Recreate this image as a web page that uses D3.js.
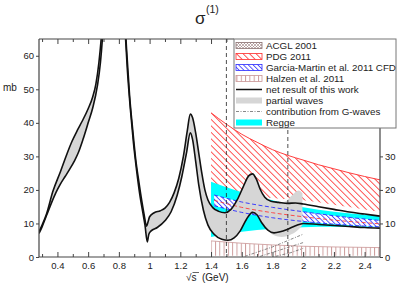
<!DOCTYPE html>
<html><head><meta charset="utf-8">
<script src="https://cdn.jsdelivr.net/npm/d3@7"></script>
<style>
html,body{margin:0;padding:0;background:#fff;}
svg{display:block;font-family:"Liberation Sans",Arial,Helvetica,sans-serif;}
</style></head><body>
<svg id="c" width="398" height="284"></svg>
<script>
// ---------- data ----------
const xMajorTicks = [0.4,0.6,0.8,1,1.2,1.4,1.6,1.8,2,2.2,2.4];
const xMinorTicks = [0.3,0.5,0.7,0.9,1.1,1.3,1.5,1.7,1.9,2.1,2.3];
const yTicksLeft = [0,10,20,30,40,50,60];
const yTicksRight = [0,10,20,30];
const legendLabels = ["ACGL 2001","PDG 2011","Garcia-Martin et al. 2011 CFD","Halzen et al. 2011",
  "net result of this work","partial waves","contribution from G-waves","Regge"];
const verticalMarks = [1.5, 1.9];

// net result of this work: upper and lower black curves [sqrt(s) GeV, mb]
const netUpper = [[0.28,7.5],[0.30,9.5],[0.33,13],[0.37,19.5],[0.42,25.5],[0.46,30.5],[0.495,34.5],[0.53,37.8],
  [0.56,40.4],[0.60,44.2],[0.63,47.8],[0.65,51.5],[0.67,58],[0.69,68],[0.72,92],[0.76,125],[0.80,108],[0.83,78],
  [0.85,62],[0.87,48],[0.89,38],[0.91,29],[0.93,22.5],[0.95,16.5],[0.965,12.5],[0.98,9.2],[0.99,10.5],[1.0,12],
  [1.03,13.2],[1.07,13.8],[1.10,14.6],[1.13,16.3],[1.16,19.2],[1.19,23.5],[1.22,30],[1.245,37.5],[1.265,42.6],
  [1.28,41.5],[1.30,37],[1.32,31],[1.34,25],[1.36,20],[1.38,17],[1.41,14.8],[1.45,13.6],[1.49,13.2],[1.53,14.2],
  [1.57,17],[1.61,21],[1.645,24.2],[1.67,24.8],[1.695,23.2],[1.72,20.2],[1.75,17.8],[1.79,16.6],[1.84,16.3],
  [1.9,16.0],[1.95,16.1],[2.0,15.8],[2.1,15],[2.2,14.2],[2.3,13.4],[2.4,12.8],[2.5,12.2]];
const netLower = [[0.28,7],[0.30,9],[0.33,12.5],[0.36,16],[0.39,19.2],[0.42,21.8],[0.45,24],[0.48,26.2],
  [0.51,28.6],[0.535,31],[0.566,35],[0.60,40],[0.63,44.5],[0.66,51],[0.68,58],[0.70,70],[0.73,98],[0.77,120],
  [0.81,98],[0.835,72],[0.855,56],[0.875,44],[0.895,34],[0.915,26],[0.935,19],[0.955,13.5],[0.97,9.5],
  [0.985,4.5],[0.995,6.8],[1.01,7.8],[1.05,8.8],[1.1,10.8],[1.14,13.5],[1.18,18.5],[1.21,24],[1.24,31],
  [1.265,37],[1.28,35],[1.30,28.5],[1.32,21.5],[1.35,14],[1.38,9.5],[1.42,6.8],[1.47,5.3],[1.51,5],[1.55,5.7],
  [1.59,7.8],[1.63,11.2],[1.67,13.3],[1.70,12.5],[1.73,10.2],[1.77,8],[1.81,7.2],[1.85,7.5],[1.9,8.3],
  [1.95,9.3],[2.0,10],[2.1,9.7],[2.2,9.4],[2.3,9.1],[2.4,8.8],[2.5,8.6]];
// partial waves band (extends to 2 GeV)
const pwUpperTail = [[1.88,16.5],[1.93,18.5],[1.97,19.8],[1.995,19]];
const pwLowerTail = [[1.81,6.5],[1.86,6],[1.91,6.5],[1.96,7.8],[1.995,9.5]];
// Regge band
const reggeX = [1.4,1.6,1.8,2.0,2.2,2.5];
const reggeHigh = [22.4,19.3,16.9,14.8,13.5,12.3];
const reggeLow = [6,7.5,8.4,8.9,9,9];
// PDG 2011 band
const pdgX = [1.4,1.5,1.6,1.7,1.8,1.9,2.0,2.1,2.2,2.3,2.4,2.5];
const pdgHigh = [43,39.6,36.6,34.2,32,30.3,28.9,27.5,26.3,25.1,24,23];
const pdgLow = [20,19.2,18.5,18,17.6,17.2,16.9,16.3,15.6,14.9,14.2,13.5];
// Garcia-Martin et al. 2011 CFD band
const gmX = [1.42,1.6,1.8,2.0,2.2,2.5];
const gmHigh = [18.5,16.4,14.8,13.5,12.3,10.9];
const gmLow = [15.3,13.3,11.7,10.6,9.8,9.0];
const gmCentral = [16.9,14.8,13.2,12,11,9.9];
// Halzen et al. 2011 band
const hzX = [1.4,1.6,1.8,2.0,2.2,2.5];
const hzHigh = [4.8,4.1,3.6,3.2,3.0,2.8];
const hzLow = [0.4,0.4,0.4,0.4,0.4,0.4];
// contribution from G-waves
const gWaveA = [[1.62,0.2],[1.8,3],[2.0,6.8]];
const gWaveB = [[1.72,0.2],[1.85,2.1],[2.0,4.3]];
const gWaveC = [[1.82,0.2],[1.92,1.3],[2.0,2.6]];

// ---------- drawing ----------
const svg = d3.select("#c");
const L = 39, R = 380, T = 39, B = 257, legW = 162, legH = 89, legX = 234;
const x = d3.scaleLinear().domain([0.28, 2.5]).range([L, R]);
const y = d3.scaleLinear().domain([0, 65]).range([B, T]);

const defs = svg.append("defs");
defs.append("clipPath").attr("id","clip").append("rect").attr("x",L).attr("y",T).attr("width",R-L).attr("height",B-T);
function hatch(id, color, size, angle, bg, width){
  const p = defs.append("pattern").attr("id",id).attr("patternUnits","userSpaceOnUse")
    .attr("width",size).attr("height",size).attr("patternTransform",`rotate(${angle})`);
  if(bg) p.append("rect").attr("width",size).attr("height",size).attr("fill",bg);
  p.append("line").attr("x1",0.5).attr("y1",0).attr("x2",0.5).attr("y2",size).attr("stroke",color).attr("stroke-width",width||0.8);
}
hatch("hRed","#ff2a2a",4.6,-45,null,0.8);
hatch("hBlue","#2a2aff",3.4,-45,"#fff",0.8);
hatch("hHalz","#c99494",4.3,0,null,0.9);
const pc = defs.append("pattern").attr("id","hAcgl").attr("patternUnits","userSpaceOnUse").attr("width",3).attr("height",3);
pc.append("rect").attr("width",3).attr("height",3).attr("fill","#fff");
pc.append("path").attr("d","M0,0L3,3M3,0L0,3").attr("stroke","#9a8080").attr("stroke-width",0.6);

const g = svg.append("g").attr("clip-path","url(#clip)");
const line = d3.line().x(d=>x(d[0])).y(d=>y(d[1])).curve(d3.curveMonotoneX);
const lineLin = d3.line().x(d=>x(d[0])).y(d=>y(d[1]));
const bandArea = (xs, hi, lo) => d3.area().x((d,i)=>x(xs[i])).y0((d,i)=>y(lo[i])).y1((d,i)=>y(hi[i])).curve(d3.curveMonotoneX)(xs);

// PDG band
g.append("path").attr("d",bandArea(pdgX,pdgHigh,pdgLow)).attr("fill","url(#hRed)");
g.append("path").attr("d",line(pdgX.map((v,i)=>[v,pdgHigh[i]]))).attr("fill","none").attr("stroke","#ff2a2a").attr("stroke-width",0.9);
// Regge
g.append("path").attr("d",bandArea(reggeX,reggeHigh,reggeLow)).attr("fill","#00ffff");
// Garcia-Martin hatch
g.append("path").attr("d",bandArea(gmX,gmHigh,gmLow)).attr("fill","url(#hBlue)");
// partial waves gray band
const pwUp = netUpper.filter(d=>d[0]<=1.84).concat(pwUpperTail);
const pwLo = netLower.filter(d=>d[0]<=1.77).concat(pwLowerTail);
const upPath = line(pwUp);
const loPath = line(pwLo.slice().reverse());
g.append("path").attr("d", upPath + "L" + loPath.slice(1) + "Z").attr("fill","#d6d6d6");
// Garcia-Martin dashed edges and central line
g.append("path").attr("d",line(gmX.map((v,i)=>[v,gmHigh[i]]))).attr("fill","none").attr("stroke","#2a2aff").attr("stroke-width",0.9).attr("stroke-dasharray","4,2.5");
g.append("path").attr("d",line(gmX.map((v,i)=>[v,gmLow[i]]))).attr("fill","none").attr("stroke","#2a2aff").attr("stroke-width",0.9).attr("stroke-dasharray","4,2.5");
g.append("path").attr("d",line(gmX.map((v,i)=>[v,gmCentral[i]]))).attr("fill","none").attr("stroke","#ff3a3a").attr("stroke-width",0.9).attr("stroke-dasharray","4,2.5");
// net result black curves
[netUpper, netLower].forEach(arr => g.append("path").attr("d",line(arr)).attr("fill","none").attr("stroke","#111").attr("stroke-width",1.6));
// Halzen band
g.append("path").attr("d",bandArea(hzX,hzHigh,hzLow)).attr("fill","url(#hHalz)");
g.append("path").attr("d",line(hzX.map((v,i)=>[v,hzHigh[i]]))).attr("fill","none").attr("stroke","#c99494").attr("stroke-width",0.8);
// G-wave contributions
[gWaveA,gWaveB,gWaveC].forEach(arr => g.append("path").attr("d",lineLin(arr)).attr("fill","none").attr("stroke","#555").attr("stroke-width",0.7).attr("stroke-dasharray","3,1.5,1,1.5"));
// vertical dashed lines
g.selectAll(".vm").data(verticalMarks).enter().append("line").attr("x1",d=>x(d)).attr("x2",d=>x(d)).attr("y1",T).attr("y2",B)
  .attr("stroke","#222").attr("stroke-width",0.8).attr("stroke-dasharray","4,3");

// ---------- axes ----------
const axisColor = "#444";
function styleAxis(sel){
  sel.selectAll("line").attr("stroke",axisColor).attr("stroke-width",1);
  sel.selectAll("path.domain").remove();
  sel.selectAll("text").attr("fill","#222").style("font-size","9.5px").style("font-family","'Liberation Sans',Arial,sans-serif");
}
const fmt = d => d3.format("~g")(d);
svg.append("g").attr("transform",`translate(0,${B})`).call(d3.axisBottom(x).tickValues(xMajorTicks).tickSize(-5).tickPadding(5).tickFormat(fmt)).call(styleAxis);
svg.append("g").attr("transform",`translate(0,${B})`).call(d3.axisBottom(x).tickValues(xMinorTicks).tickSize(-3).tickFormat("")).call(styleAxis);
const topMaj = xMajorTicks.filter(v=>x(v)<legX-1), topMin = xMinorTicks.filter(v=>x(v)<legX-1);
svg.append("g").attr("transform",`translate(0,${T})`).call(d3.axisTop(x).tickValues(topMaj).tickSize(-5).tickFormat("")).call(styleAxis);
svg.append("g").attr("transform",`translate(0,${T})`).call(d3.axisTop(x).tickValues(topMin).tickSize(-3).tickFormat("")).call(styleAxis);
svg.append("g").attr("transform",`translate(${L},0)`).call(d3.axisLeft(y).tickValues(yTicksLeft).tickSize(3).tickPadding(2)).call(styleAxis);
svg.append("g").attr("transform",`translate(${R},0)`).call(d3.axisRight(y).tickValues(yTicksRight).tickSize(3).tickPadding(2)).call(styleAxis);
// frame lines
svg.append("line").attr("x1",L).attr("x2",R).attr("y1",B).attr("y2",B).attr("stroke",axisColor).attr("stroke-width",1.2);
svg.append("line").attr("x1",L).attr("x2",L).attr("y1",T).attr("y2",B).attr("stroke",axisColor).attr("stroke-width",1.2);
svg.append("line").attr("x1",L).attr("x2",legX).attr("y1",T).attr("y2",T).attr("stroke",axisColor).attr("stroke-width",1.2);
svg.append("line").attr("x1",R).attr("x2",R).attr("y1",T+legH).attr("y2",B).attr("stroke",axisColor).attr("stroke-width",1.2);

// ---------- legend ----------
const lg = svg.append("g");
lg.append("rect").attr("x",legX).attr("y",T).attr("width",legW).attr("height",legH).attr("fill","#fff").attr("stroke","#777").attr("stroke-width",1);
const rowY = i => 45.5 + i*11;
const sw = {x:236, w:26, h:6};
const swFills = [["url(#hAcgl)","#8a7070"],["url(#hRed)","#ff2a2a"],["url(#hBlue)","#2a2aff"],["url(#hHalz)","#c99494"]];
swFills.forEach((f,i)=>{
  lg.append("rect").attr("x",sw.x).attr("y",rowY(i)-sw.h/2).attr("width",sw.w).attr("height",sw.h).attr("fill",f[0]).attr("stroke",f[1]).attr("stroke-width",0.8);
});
lg.append("line").attr("x1",sw.x).attr("x2",sw.x+sw.w).attr("y1",rowY(4)).attr("y2",rowY(4)).attr("stroke","#111").attr("stroke-width",1.5);
lg.append("rect").attr("x",sw.x).attr("y",rowY(5)-sw.h/2).attr("width",sw.w).attr("height",sw.h).attr("fill","#d6d6d6");
lg.append("line").attr("x1",sw.x).attr("x2",sw.x+sw.w).attr("y1",rowY(6)).attr("y2",rowY(6)).attr("stroke","#555").attr("stroke-width",0.7).attr("stroke-dasharray","3,1.5,1,1.5");
lg.append("rect").attr("x",sw.x).attr("y",rowY(7)-sw.h/2).attr("width",sw.w).attr("height",sw.h).attr("fill","#00ffff");
lg.selectAll(".lt").data(legendLabels).enter().append("text").attr("x",266).attr("y",(d,i)=>rowY(i)).attr("dy","0.36em")
  .style("font-size","9.8px").attr("fill","#222").text(d=>d);

// ---------- titles ----------
svg.append("text").attr("x",195).attr("y",24).style("font-size","17px").attr("fill","#222").text("σ");
svg.append("text").attr("x",206).attr("y",13).style("font-size","10.5px").attr("fill","#222").text("(1)");
svg.append("text").attr("x",3).attr("y",91).style("font-size","10px").attr("fill","#222").text("mb");
svg.append("text").attr("x",186).attr("y",281).style("font-size","10px").attr("fill","#222").text("√s");
svg.append("line").attr("x1",192.5).attr("x2",199).attr("y1",272.5).attr("y2",272.5).attr("stroke","#222").attr("stroke-width",0.7);
svg.append("text").attr("x",202).attr("y",281).style("font-size","10px").attr("fill","#222").text("(GeV)");
</script>
</body></html>
